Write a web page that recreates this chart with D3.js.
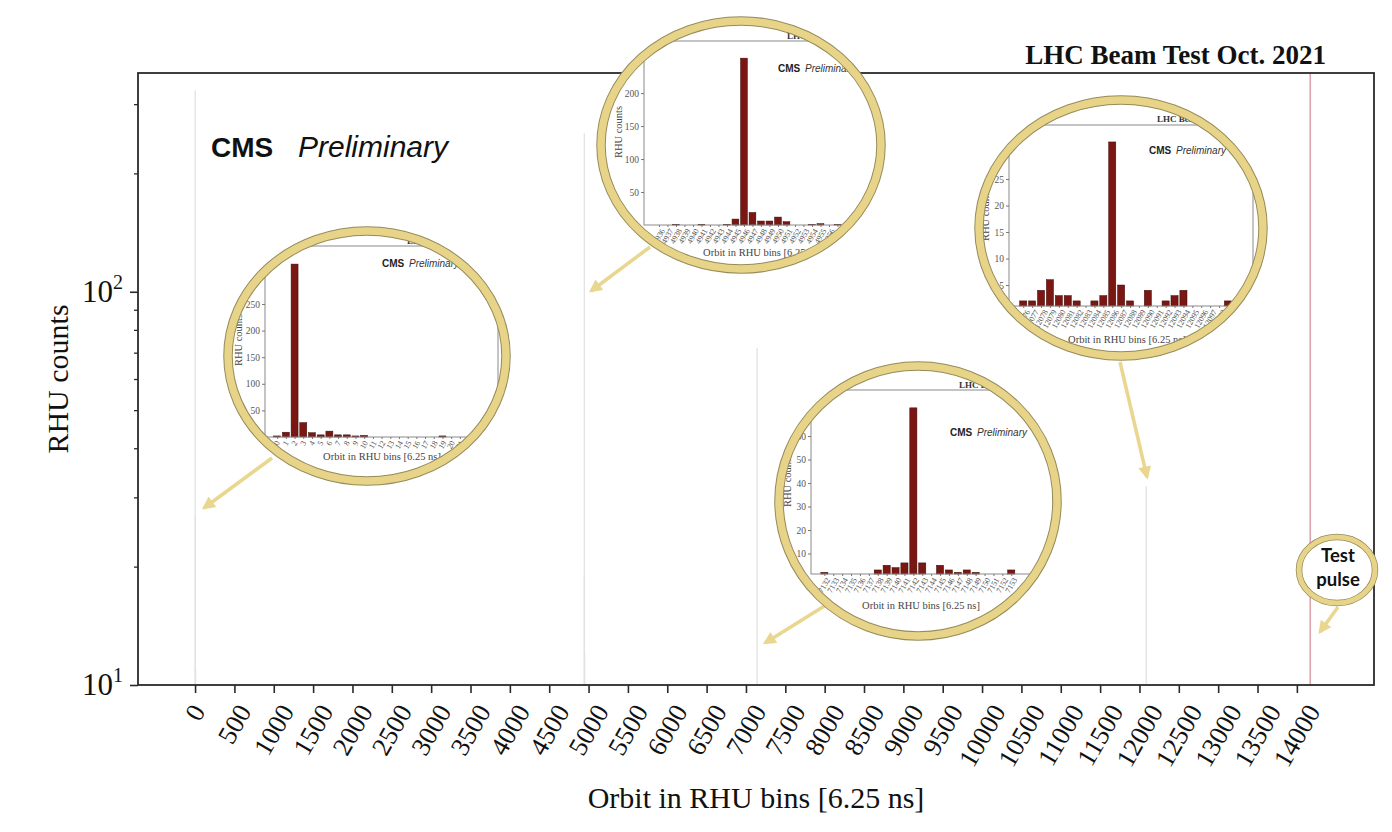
<!DOCTYPE html>
<html>
<head>
<meta charset="utf-8">
<script src="https://cdn.jsdelivr.net/npm/d3@7"></script>
<style>
  body { margin: 0; background: #fff; }
  svg { display: block; }
</style>
</head>
<body>
<div id="chart"></div>
<script>
// ---- data ----
// bunch near orbit 0
const binsA   = [0, 1, 2, 3, 4, 5, 6, 7, 8, 9, 10, 11, 12, 13, 14, 15, 16, 17, 18, 19, 20, 21];
const countsA = [2, 9, 325, 27, 8, 4, 11, 4, 4, 2, 3, 0, 0, 0, 0, 0, 0, 0, 0, 2, 0, 0];
// bunch near orbit 4946
const binsB   = [4936, 4937, 4938, 4939, 4940, 4941, 4942, 4943, 4944, 4945, 4946, 4947, 4948, 4949, 4950, 4951, 4952, 4953, 4954, 4955, 4956, 4957];
const countsB = [0, 0, 1, 0, 0, 1, 0, 0, 1, 9, 253, 19, 6, 6, 12, 5, 0, 0, 1, 2, 0, 1];
// bunch near orbit 7142
const binsC   = [7132, 7133, 7134, 7135, 7136, 7137, 7138, 7139, 7140, 7141, 7142, 7143, 7144, 7145, 7146, 7147, 7148, 7149, 7150, 7151, 7152, 7153];
const countsC = [2, 0, 0, 0, 0, 0, 3, 5, 4, 6, 72, 6, 0, 5, 3, 2, 3, 2, 0, 0, 0, 3];
// bunch near orbit 12086
const binsD   = [12076, 12077, 12078, 12079, 12080, 12081, 12082, 12083, 12084, 12085, 12086, 12087, 12088, 12089, 12090, 12091, 12092, 12093, 12094, 12095, 12096, 12097, 12098, 12099];
const countsD = [2, 2, 4, 6, 3, 3, 2, 0, 2, 3, 32, 5, 2, 0, 4, 0, 2, 3, 4, 0, 0, 0, 0, 2];
// test pulse (off scale)
const testPulseOrbit  = [14170];
const testPulseCounts = [2000];

const xTickValues = d3.range(0, 14001, 500);
const yMajorTicks = [10, 100];
const yMinorTicks = [20, 30, 40, 50, 60, 70, 80, 90, 200, 300];

// ---- layout ----
const W = 1392, H = 832;
const plot = {left: 138, right: 1374, top: 73, bottom: 685};
const gold = "#e8d488", goldEdge = "#958b5a", arrowGold = "#e9d68f";
const barFill = "#7a1712", barEdge = "#3c0a07";
const serif = "'Liberation Serif', 'DejaVu Serif', serif";
const sans = "'Liberation Sans', Arial, sans-serif";

const svg = d3.select("#chart").append("svg")
  .attr("width", W).attr("height", H);

const defs = svg.append("defs");
defs.append("clipPath").attr("id", "plotclip")
  .append("rect")
  .attr("x", plot.left).attr("y", plot.top)
  .attr("width", plot.right - plot.left).attr("height", plot.bottom - plot.top);

defs.append("marker")
  .attr("id", "arrowhead")
  .attr("viewBox", "0 0 10 10")
  .attr("refX", 8).attr("refY", 5)
  .attr("markerWidth", 15).attr("markerHeight", 13)
  .attr("markerUnits", "userSpaceOnUse")
  .attr("orient", "auto")
  .append("path").attr("d", "M0,0 L10,5 L0,10 Z").attr("fill", arrowGold);

// rotated tick labels, centred on the tick like matplotlib does
function rotatedLabels(g, items, xs, yTop, fontSize, angle, family, fill) {
  const rad = angle * Math.PI / 180;
  g.selectAll(null).data(items).join("text")
    .attr("text-anchor", "middle")
    .attr("dominant-baseline", "central")
    .attr("font-family", family)
    .attr("font-size", fontSize)
    .attr("fill", fill)
    .text(d => d)
    .attr("transform", function(d) {
      const L = this.getComputedTextLength();
      const h = fontSize * 0.72;
      const vert = L * Math.sin(rad) + h * Math.cos(rad);
      return `translate(${xs(d)},${yTop + vert / 2}) rotate(${-angle})`;
    });
}

// ---- main chart ----
const x = d3.scaleLinear().domain([-725, 14980]).range([plot.left, plot.right]);
const y = d3.scaleLog().domain([10, 360]).range([plot.bottom, plot.top]);

const allBins = [].concat(
  binsA.map((b, i) => ({orbit: b, n: countsA[i]})),
  binsB.map((b, i) => ({orbit: b, n: countsB[i]})),
  binsC.map((b, i) => ({orbit: b, n: countsC[i]})),
  binsD.map((b, i) => ({orbit: b, n: countsD[i]}))
).filter(d => d.n > 10);

const main = svg.append("g");
main.append("g").attr("clip-path", "url(#plotclip)")
  .selectAll("line.hist").data(allBins).join("line")
  .attr("x1", d => x(d.orbit)).attr("x2", d => x(d.orbit))
  .attr("y1", y(10)).attr("y2", d => y(d.n))
  .attr("stroke", "#e2e2e2").attr("stroke-width", 1.3);

main.append("g").attr("clip-path", "url(#plotclip)")
  .selectAll("line.tp").data(testPulseOrbit).join("line")
  .attr("x1", d => x(d)).attr("x2", d => x(d))
  .attr("y1", y(10)).attr("y2", (d, i) => y(Math.min(testPulseCounts[i], 360)))
  .attr("stroke", "#dba4ac").attr("stroke-width", 1.6);

// frame
main.append("rect")
  .attr("x", plot.left).attr("y", plot.top)
  .attr("width", plot.right - plot.left).attr("height", plot.bottom - plot.top)
  .attr("fill", "none").attr("stroke", "#2a2a2a").attr("stroke-width", 1.8);

// x axis
const xAxisG = main.append("g")
  .attr("transform", `translate(0,${plot.bottom})`)
  .call(d3.axisBottom(x).tickValues(xTickValues).tickSize(8).tickFormat(""));
xAxisG.select(".domain").remove();
xAxisG.selectAll(".tick line").attr("stroke", "#2a2a2a").attr("stroke-width", 1.6);
rotatedLabels(main.append("g"), xTickValues, x, 702, 26.5, 60, serif, "#111");

// y axis
const yAxisMajor = main.append("g")
  .attr("transform", `translate(${plot.left},0)`)
  .call(d3.axisLeft(y).tickValues(yMajorTicks).tickSize(8).tickFormat(""));
yAxisMajor.select(".domain").remove();
yAxisMajor.selectAll(".tick line").attr("stroke", "#2a2a2a").attr("stroke-width", 1.6);
const yAxisMinor = main.append("g")
  .attr("transform", `translate(${plot.left},0)`)
  .call(d3.axisLeft(y).tickValues(yMinorTicks).tickSize(4).tickFormat(""));
yAxisMinor.select(".domain").remove();
yAxisMinor.selectAll(".tick line").attr("stroke", "#2a2a2a").attr("stroke-width", 1.3);

const yLab = main.selectAll("text.ymaj").data(yMajorTicks).join("text")
  .attr("class", "ymaj")
  .attr("x", 123).attr("y", d => y(d) + 10)
  .attr("text-anchor", "end")
  .attr("font-family", serif).attr("font-size", 31).attr("fill", "#111");
yLab.append("tspan").text("10");
yLab.append("tspan").attr("font-size", 20).attr("dy", -13).text(d => Math.round(Math.log10(d)));

// axis titles
main.append("text")
  .attr("x", (plot.left + plot.right) / 2).attr("y", 808)
  .attr("text-anchor", "middle")
  .attr("font-family", serif).attr("font-size", 30).attr("fill", "#111")
  .text("Orbit in RHU bins [6.25 ns]");
main.append("text")
  .attr("transform", `translate(68,${(plot.top + plot.bottom) / 2}) rotate(-90)`)
  .attr("text-anchor", "middle")
  .attr("font-family", serif).attr("font-size", 30).attr("fill", "#111")
  .text("RHU counts");

main.append("text")
  .attr("x", 1326).attr("y", 64)
  .attr("text-anchor", "end")
  .attr("font-family", serif).attr("font-weight", "bold").attr("font-size", 27)
  .attr("fill", "#111")
  .text("LHC Beam Test Oct. 2021");

main.append("text").attr("x", 211).attr("y", 157)
  .attr("font-family", sans).attr("font-weight", "bold").attr("font-size", 28)
  .attr("fill", "#111").text("CMS");
main.append("text").attr("x", 298).attr("y", 157)
  .attr("font-family", sans).attr("font-style", "italic").attr("font-size", 30)
  .attr("fill", "#111").text("Preliminary");

// ---- arrows ----
const arrows = [
  [272, 458, 204, 508],
  [650, 247, 591, 291],
  [1120, 362, 1147, 477],
  [826, 605, 765, 643],
  [1338, 607, 1320, 632]
];
svg.append("g").selectAll("line").data(arrows).join("line")
  .attr("x1", d => d[0]).attr("y1", d => d[1])
  .attr("x2", d => d[2]).attr("y2", d => d[3])
  .attr("stroke", arrowGold).attr("stroke-width", 3.5)
  .attr("marker-end", "url(#arrowhead)");

// ---- zoomed insets ----
const insets = [
  {id: "a", bins: binsA, counts: countsA, cx: 367, cy: 356, rx: 143, ry: 129,
   left: 265, right: 498, top: 246, bottom: 437, binW: 8.7, offset: 1.4,
   yMin: 0, yMax: 359, yTicks: 7, title: [407, 244], cms: [382, 267],
   xlab: [382, 460], ylab: [242, 340]},
  {id: "b", bins: binsB, counts: countsB, cx: 741, cy: 145, rx: 144, ry: 128,
   left: 644, right: 880, top: 41, bottom: 225, binW: 8.5, offset: 1.76,
   yMin: 0, yMax: 279, yTicks: 6, title: [787, 39], cms: [778, 72],
   xlab: [762, 256], ylab: [622, 132]},
  {id: "c", bins: binsC, counts: countsC, cx: 918, cy: 501, rx: 143, ry: 139,
   left: 811, right: 1053, top: 390, bottom: 574, binW: 8.9, offset: 1.5,
   yMin: 1.28, yMax: 79.6, yTicks: 8, title: [959, 388], cms: [950, 436],
   xlab: [921, 609], ylab: [791, 481]},
  {id: "d", bins: binsD, counts: countsD, cx: 1121, cy: 228, rx: 146, ry: 132,
   left: 1009, right: 1253, top: 125, bottom: 306, binW: 8.9, offset: 1.6,
   yMin: 1.04, yMax: 35.2, yTicks: 7, title: [1157, 122], cms: [1149, 154],
   xlab: [1127, 343], ylab: [989, 215]}
];

insets.forEach(c => {
  defs.append("clipPath").attr("id", "clip-" + c.id)
    .append("ellipse")
    .attr("cx", c.cx).attr("cy", c.cy).attr("rx", c.rx - 7).attr("ry", c.ry - 7);

  const g = svg.append("g");
  const inner = g.append("g").attr("clip-path", `url(#clip-${c.id})`);
  inner.append("ellipse")
    .attr("cx", c.cx).attr("cy", c.cy).attr("rx", c.rx).attr("ry", c.ry)
    .attr("fill", "#fff");

  const lo = c.bins[0] - c.offset;
  const xs = d3.scaleLinear().domain([lo, lo + (c.right - c.left) / c.binW]).range([c.left, c.right]);
  const ys = d3.scaleLinear().domain([c.yMin, c.yMax]).range([c.bottom, c.top]);

  // title and label of the small plot
  inner.append("text").attr("x", c.title[0]).attr("y", c.title[1])
    .attr("font-family", serif).attr("font-weight", "bold").attr("font-size", 9)
    .attr("fill", "#333").text("LHC Beam Test Oct. 2021");
  inner.append("text").attr("x", c.cms[0]).attr("y", c.cms[1])
    .attr("font-family", sans).attr("font-weight", "bold").attr("font-size", 10)
    .attr("fill", "#222").text("CMS");
  inner.append("text").attr("x", c.cms[0] + 27).attr("y", c.cms[1])
    .attr("font-family", sans).attr("font-style", "italic").attr("font-size", 10)
    .attr("fill", "#333").text("Preliminary");

  // bars
  inner.append("g").selectAll("rect").data(c.bins).join("rect")
    .attr("x", d => xs(d) - c.binW * 0.4)
    .attr("width", c.binW * 0.8)
    .attr("y", (d, i) => ys(Math.max(c.counts[i], c.yMin)))
    .attr("height", (d, i) => ys(c.yMin) - ys(Math.max(c.counts[i], c.yMin)))
    .attr("fill", barFill).attr("stroke", barEdge).attr("stroke-width", 0.5);

  // frame
  inner.append("rect")
    .attr("x", c.left).attr("y", c.top)
    .attr("width", c.right - c.left).attr("height", c.bottom - c.top)
    .attr("fill", "none").attr("stroke", "#8a8a8a").attr("stroke-width", 1);

  // y axis
  const ya = inner.append("g").attr("transform", `translate(${c.left},0)`)
    .call(d3.axisLeft(ys).ticks(c.yTicks).tickSize(3).tickPadding(2));
  ya.select(".domain").remove();
  ya.selectAll(".tick").filter(d => d <= 0).remove();
  ya.selectAll(".tick line").attr("stroke", "#777");
  ya.selectAll(".tick text").attr("font-family", serif).attr("font-size", 9.5).attr("fill", "#555");

  // x tick labels
  const xt = inner.append("g").attr("transform", `translate(0,${c.bottom})`)
    .call(d3.axisBottom(xs).tickValues(c.bins).tickSize(2).tickFormat(""));
  xt.select(".domain").remove();
  xt.selectAll(".tick line").attr("stroke", "#777");
  rotatedLabels(inner.append("g"), c.bins, xs, c.bottom + 3, 8, 60, serif, "#555");

  inner.append("text").attr("x", c.xlab[0]).attr("y", c.xlab[1])
    .attr("text-anchor", "middle")
    .attr("font-family", serif).attr("font-size", 10.5).attr("fill", "#444")
    .text("Orbit in RHU bins [6.25 ns]");
  inner.append("text")
    .attr("transform", `translate(${c.ylab[0]},${c.ylab[1]}) rotate(-90)`)
    .attr("text-anchor", "middle")
    .attr("font-family", serif).attr("font-size", 10.5).attr("fill", "#444")
    .text("RHU counts");

  // golden ring
  g.append("ellipse")
    .attr("cx", c.cx).attr("cy", c.cy).attr("rx", c.rx - 4).attr("ry", c.ry - 4)
    .attr("fill", "none").attr("stroke", goldEdge).attr("stroke-width", 9.5);
  g.append("ellipse")
    .attr("cx", c.cx).attr("cy", c.cy).attr("rx", c.rx - 4).attr("ry", c.ry - 4)
    .attr("fill", "none").attr("stroke", gold).attr("stroke-width", 7.5);
});

// ---- test pulse badge ----
const tp = svg.append("g");
tp.append("ellipse").attr("cx", 1337).attr("cy", 570).attr("rx", 38).attr("ry", 33)
  .attr("fill", "#fff").attr("stroke", goldEdge).attr("stroke-width", 6.5);
tp.append("ellipse").attr("cx", 1337).attr("cy", 570).attr("rx", 38).attr("ry", 33)
  .attr("fill", "none").attr("stroke", gold).attr("stroke-width", 5);
tp.append("text").attr("x", 1338).attr("y", 562).attr("text-anchor", "middle")
  .attr("font-family", "Lato, 'Open Sans', sans-serif").attr("font-weight", "bold")
  .attr("font-size", 18.5).attr("fill", "#111").text("Test");
tp.append("text").attr("x", 1338).attr("y", 586).attr("text-anchor", "middle")
  .attr("font-family", "Lato, 'Open Sans', sans-serif").attr("font-weight", "bold")
  .attr("font-size", 18.5).attr("fill", "#111").text("pulse");
</script>
</body>
</html>
